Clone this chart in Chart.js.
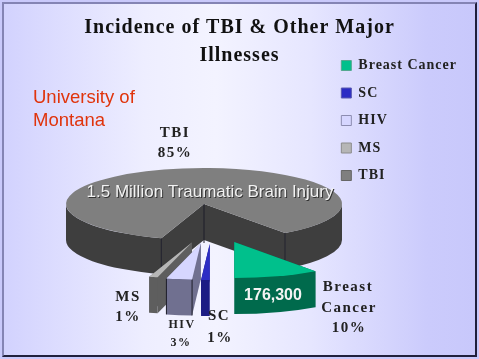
<!DOCTYPE html>
<html>
<head>
<meta charset="utf-8">
<title>Incidence of TBI</title>
<script src="https://cdn.jsdelivr.net/npm/chart.js@4/dist/chart.umd.min.js"></script>
<style>
html,body{margin:0;padding:0;width:479px;height:359px;overflow:hidden;background:#c9c9fb;}
#frame{position:absolute;left:2px;top:2px;width:471px;height:351px;border-left:2px solid #8484b4;border-top:2px solid #8484b4;border-right:2px solid #20203c;border-bottom:2px solid #20203c;
  background:linear-gradient(90deg,#d2d2fe 0%,#eeeeff 30%,#f3f3ff 45%,#e6e6ff 65%,#cbcbfc 90%,#c8c8fb 100%);}
canvas{position:absolute;left:0;top:0;}
</style>
</head>
<body>
<div id="frame"></div>
<canvas id="c" width="479" height="359"></canvas>
<script>
const categories = ['Breast Cancer','SC','HIV','MS','TBI'];
const values = [10,1,3,1,85];
const titleLines = ['Incidence of TBI & Other Major','Illnesses'];
const noteLines = ['University of','Montana'];
const pieNote = '1.5 Million Traumatic Brain Injury';
const breastNote = '176,300';

const topColors = ['#00c08c','#2c2cc4','#d6d6ff','#b6b6b6','#7f7f7f'];
const sideColors = ['#006a4c','#1c1c84','#707090','#5e5e5e','#3e3e3e'];
const legendBorders = ['#55a890','#5a5ab0','#8c8cb0','#8c8c8c','#666666'];

// pie is squashed into an ellipse, same centre and depth as the slide
const CX = 204, CY = 204, SQUASH = 36/138, DEPTH = 36;
const SPACING = '1px';

function explodeOffset(i, mid){
  if(categories[i]==='TBI') return [0,0];
  return [8+72*Math.cos(mid), 40*Math.sin(mid)];
}

function drawSlice(ctx, el, i){
  const a0 = el.startAngle, a1 = el.endAngle, R = el.outerRadius;
  const [ox,oy] = explodeOffset(i,(a0+a1)/2);
  const x = CX+ox, y = CY+oy, ry = R*SQUASH;
  const px = a => x+R*Math.cos(a), py = a => y+ry*Math.sin(a);

  ctx.fillStyle = sideColors[i];
  ctx.strokeStyle = '#1c1c28';
  ctx.lineWidth = 1;
  // cut faces
  [a0,a1].forEach(a=>{
    ctx.beginPath();
    ctx.moveTo(x,y); ctx.lineTo(px(a),py(a));
    ctx.lineTo(px(a),py(a)+DEPTH); ctx.lineTo(x,y+DEPTH);
    ctx.closePath(); ctx.fill();
  });
  // front rim only
  [[0,Math.PI],[2*Math.PI,3*Math.PI]].forEach(([lo,hi])=>{
    const s = Math.max(a0,lo), e = Math.min(a1,hi);
    if(s>=e) return;
    ctx.beginPath();
    ctx.ellipse(x,y,R,ry,0,s,e);
    ctx.ellipse(x,y+DEPTH,R,ry,0,e,s,true);
    ctx.closePath(); ctx.fill();
  });
  // seams
  if(categories[i]==='TBI' || categories[i]==='HIV'){
    ctx.beginPath();
    [a0,a1].forEach(a=>{ ctx.moveTo(px(a),py(a)); ctx.lineTo(px(a),py(a)+DEPTH); });
    if(categories[i]==='TBI'){ ctx.moveTo(x,y); ctx.lineTo(x,y+DEPTH+3); }
    ctx.stroke();
  }
  // top face, the chart's own arc
  ctx.save();
  ctx.translate(x,y);
  ctx.scale(1,SQUASH);
  ctx.translate(-el.x,-el.y);
  el.draw(ctx);
  ctx.restore();
}

const pie3d = {
  id:'pie3d',
  // spacing has to be set before the legend measures its labels
  beforeLayout(chart){ chart.ctx.letterSpacing = SPACING; },
  beforeDraw(chart){ chart.ctx.letterSpacing = SPACING; },
  beforeDatasetsDraw(chart){
    const ctx = chart.ctx, els = chart.getDatasetMeta(0).data;
    ctx.save();
    ctx.letterSpacing = '0px';
    [4,3,2,1,0].forEach(i=>drawSlice(ctx,els[i],i));
    ctx.restore();
    return false;
  },
  afterDraw(chart){
    const ctx = chart.ctx;
    const text = (s,x,y,font,color,sp,align)=>{
      ctx.font = font; ctx.fillStyle = color; ctx.letterSpacing = sp||'0px';
      ctx.textAlign = align||'center'; ctx.textBaseline = 'middle';
      ctx.fillText(s,x,y);
    };
    ctx.save();
    const serif = 'bold 15px "Liberation Serif"', sans = '"Liberation Sans"';
    text(categories[4],175,133,serif,'#222','1.5px');
    text(values[4]+'%',175,153,serif,'#222','1.5px');
    text('Breast',348,287,serif,'#222','1.5px');
    text('Cancer',349,308,serif,'#222','1.5px');
    text(values[0]+'%',349,328,serif,'#222','1.5px');
    text(categories[3],128,297,serif,'#222','1.5px');
    text(values[3]+'%',128,317,serif,'#222','1.5px');
    const small = 'bold 12px "Liberation Serif"';
    text(categories[2],182,325,small,'#222','1.5px');
    text(values[2]+'%',181,343,small,'#222','1.5px');
    text(categories[1],219,316,serif,'#222','1.5px');
    text(values[1]+'%',220,338,serif,'#222','1.5px');

    text(pieNote,211,193,'17px '+sans,'#333');
    text(pieNote,210,192,'17px '+sans,'#f2f2f2');
    text(breastNote,273,296,'bold 16px '+sans,'#f4f4f4');
    text(noteLines[0],33,98,'18.5px '+sans,'#e0340c','0px','left');
    text(noteLines[1],33,121,'18.5px '+sans,'#e0340c','0px','left');
    ctx.restore();
  }
};

new Chart(document.getElementById('c'),{
  type:'pie',
  data:{
    labels:categories,
    datasets:[{data:values,backgroundColor:topColors,borderWidth:0}]
  },
  plugins:[pie3d],
  options:{
    responsive:false,
    animation:false,
    events:[],
    rotation:144,
    layout:{padding:{left:12,right:12,top:0,bottom:38}},
    plugins:{
      tooltip:{enabled:false},
      title:{
        display:true,
        text:titleLines,
        color:'#111',
        font:{family:'"Liberation Serif"',size:20,weight:'bold',lineHeight:1.4},
        padding:{top:14,bottom:-25}
      },
      legend:{
        position:'right',
        align:'start',
        fullSize:false,
        labels:{
          color:'#222',
          font:{family:'"Liberation Serif"',size:14,weight:'bold'},
          boxWidth:10,boxHeight:10,padding:13.5,
          generateLabels(chart){
            return categories.map((c,i)=>({text:c,fillStyle:topColors[i],strokeStyle:legendBorders[i],lineWidth:1,index:i,fontColor:'#222'}));
          }
        }
      }
    }
  }
});
</script>
</body>
</html>
